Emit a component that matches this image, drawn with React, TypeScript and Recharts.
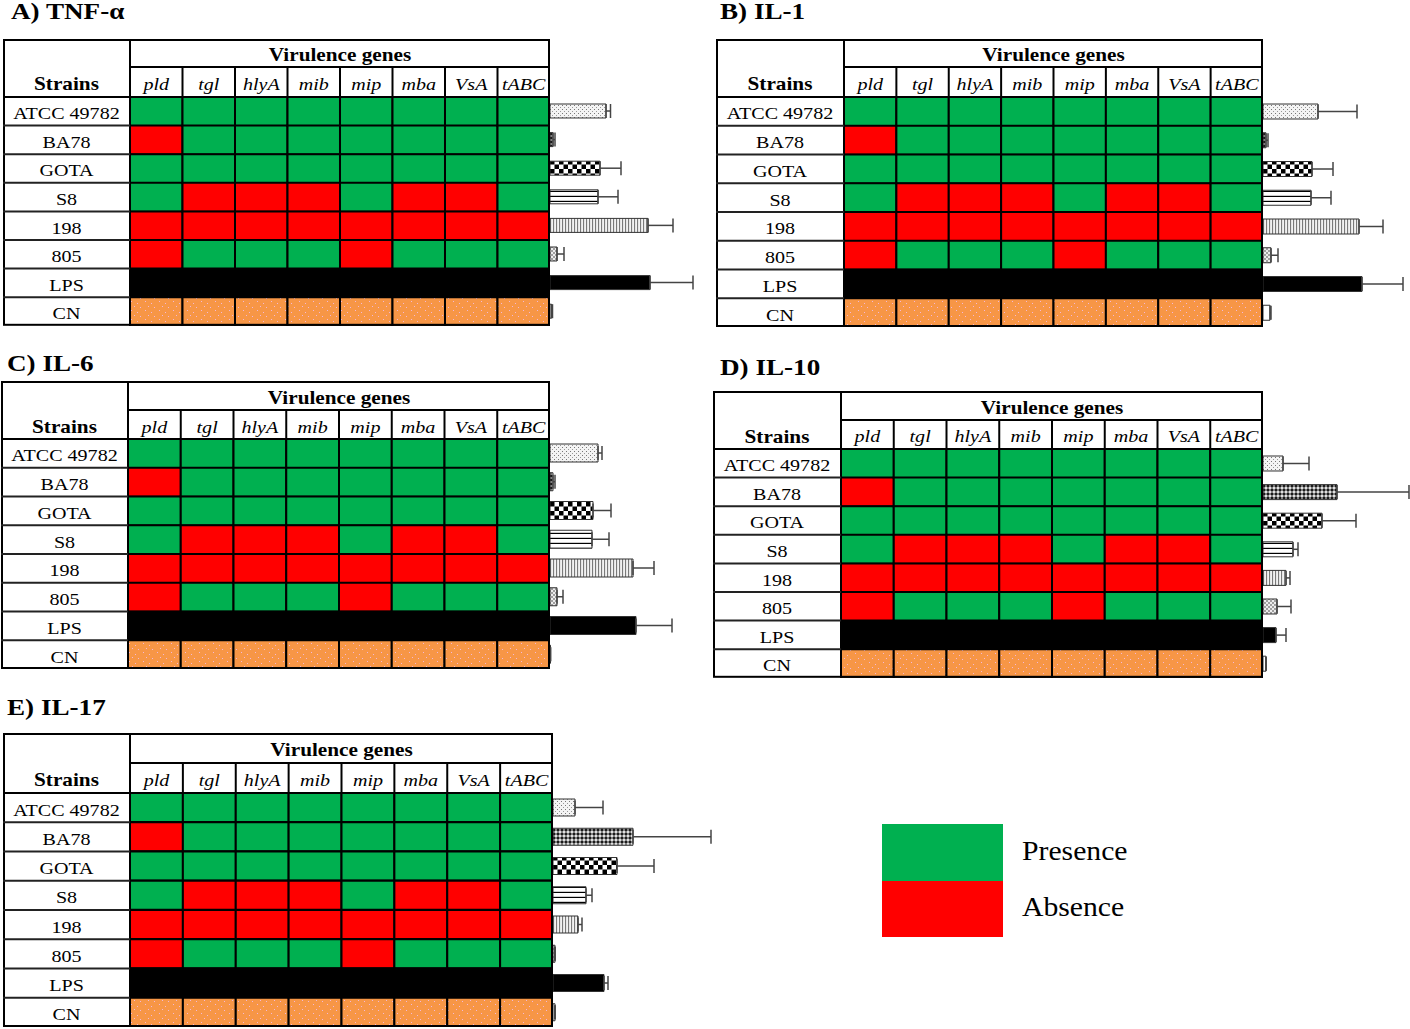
import React from "react";
import { BarChart, Bar, XAxis, YAxis, Cell, ErrorBar } from "recharts";

const strains = ["ATCC 49782", "BA78", "GOTA", "S8", "198", "805", "LPS", "CN"];
const genes = ["pld", "tgl", "hlyA", "mib", "mip", "mba", "VsA", "tABC"];

// 1 = gene present, 0 = absent. LPS and CN are controls (no profile)
const atccGenes = [1, 1, 1, 1, 1, 1, 1, 1];
const ba78Genes = [0, 1, 1, 1, 1, 1, 1, 1];
const gotaGenes = [1, 1, 1, 1, 1, 1, 1, 1];
const s8Genes = [1, 0, 0, 0, 1, 0, 0, 1];
const s198Genes = [0, 0, 0, 0, 0, 0, 0, 0];
const s805Genes = [0, 1, 1, 1, 0, 1, 1, 1];
const geneProfiles = [atccGenes, ba78Genes, gotaGenes, s8Genes, s198Genes, s805Genes, null, null];

// cytokine levels per strain (relative units) and their errors
const tnfMean = [56, 3, 50, 48, 98, 7, 100, 1.5];
const tnfErr = [4.5, 2, 21, 20, 25, 7, 43, 1];
const il1Mean = [55, 3, 49, 48, 96, 8, 99, 7];
const il1Err = [39, 2, 21, 20, 24, 7, 41, 1];
const il6Mean = [48, 3, 43, 42, 83, 7, 86, 0.5];
const il6Err = [4, 2, 18, 17, 21, 6, 36, 0];
const il10Mean = [20, 74, 59, 30, 23, 14, 13, 3];
const il10Err = [26, 72, 34, 5, 4, 14, 10, 0];
const il17Mean = [22, 80, 64, 33, 25, 2, 51, 2];
const il17Err = [28, 78, 37, 6, 4, 0, 4, 0];

const GREEN = "#00B050";
const RED = "#FF0000";
const FONT = "'Liberation Serif', 'Times New Roman', serif";
const SX = 1.18; // the original figure is stretched sideways

const barFills = [
  "url(#p-dots)",
  "url(#p-fine)",
  "url(#p-check)",
  "url(#p-hlines)",
  "url(#p-vlines)",
  "url(#p-diag)",
  "#000",
  "#fff",
];

const panels = [
  { key: "A", title: "A) TNF-α", tx: 11, ty: 19, x: 3, y: 39, w: 547, strainW: 127, h1: 28, h2: 30, rowH: 28.6, barW: 170, barSize: 14, mean: tnfMean, err: tnfErr },
  { key: "B", title: "B) IL-1", tx: 720, ty: 19, x: 716, y: 39, w: 547, strainW: 128, h1: 28, h2: 30, rowH: 28.75, barW: 147, barSize: 15, mean: il1Mean, err: il1Err },
  { key: "C", title: "C) IL-6", tx: 7, ty: 371, x: 1, y: 381, w: 549, strainW: 127, h1: 29, h2: 29, rowH: 28.75, barW: 170, barSize: 18, mean: il6Mean, err: il6Err },
  { key: "D", title: "D) IL-10", tx: 720, ty: 375, x: 713, y: 391, w: 550, strainW: 128, h1: 29, h2: 29, rowH: 28.6, barW: 147, barSize: 15, mean: il10Mean, err: il10Err },
  { key: "E", title: "E) IL-17", tx: 7, ty: 715, x: 3, y: 733, w: 550, strainW: 127, h1: 30, h2: 30, rowH: 29.25, barW: 167, barSize: 17, mean: il17Mean, err: il17Err },
];

function SText({ x, y, size, weight = "normal", italic = false, anchor = "middle", sx = SX, children }: any) {
  return (
    <text
      transform={`translate(${x},${y}) scale(${sx},1)`}
      textAnchor={anchor}
      fontFamily={FONT}
      fontSize={size}
      fontWeight={weight}
      fontStyle={italic ? "italic" : "normal"}
      fill="#000"
    >
      {children}
    </text>
  );
}

function cellFill(row: number, col: number) {
  if (row === 6) return "#000";
  if (row === 7) return "url(#p-orange)";
  return geneProfiles[row]![col] ? GREEN : RED;
}

function Panel({ p }: any) {
  const headH = p.h1 + p.h2;
  const tableH = headH + p.rowH * 8;
  const rows = strains.map((s) => {
    const r: any = { strain: s };
    genes.forEach((g) => (r[g] = 1));
    return r;
  });
  const levels = strains.map((s, i) => ({ strain: s, value: p.mean[i], range: [0, p.err[i]] }));
  const geneW = (p.w - p.strainW) / 8;

  return (
    <>
      <div style={{ position: "absolute", left: p.x, top: p.y }}>
        <BarChart
          width={p.w}
          height={tableH}
          data={rows}
          layout="vertical"
          margin={{ top: p.h1, right: 0, bottom: 0, left: 0 }}
          barCategoryGap={0}
        >
          <XAxis
            type="number"
            domain={[0, 8]}
            orientation="top"
            height={p.h2}
            ticks={[0.5, 1.5, 2.5, 3.5, 4.5, 5.5, 6.5, 7.5]}
            interval={0}
            axisLine={false}
            tickLine={false}
            tick={(t: any) => (
              <SText key={t.index} x={t.x} y={p.h1 + p.h2 / 2 + 8} size={17} italic>
                {genes[Math.floor(t.payload.value)]}
              </SText>
            )}
          />
          <YAxis
            type="category"
            dataKey="strain"
            width={p.strainW}
            interval={0}
            axisLine={false}
            tickLine={false}
            tick={(t: any) => (
              <SText key={t.index} x={p.strainW / 2} y={t.y + 8} size={17}>
                {t.payload.value}
              </SText>
            )}
          />
          {genes.map((g, j) => (
            <Bar key={g} dataKey={g} stackId="g" stroke="#000" strokeWidth={2} isAnimationActive={false}>
              {rows.map((_, i) => (
                <Cell key={i} fill={cellFill(i, j)} />
              ))}
            </Bar>
          ))}
        </BarChart>
        <svg
          width={p.w}
          height={tableH}
          style={{ position: "absolute", left: 0, top: 0, pointerEvents: "none" }}
        >
          <rect x={1} y={1} width={p.w - 2} height={tableH - 2} fill="none" stroke="#000" strokeWidth={2} />
          <line x1={p.strainW} y1={p.h1} x2={p.w} y2={p.h1} stroke="#000" strokeWidth={2} />
          <line x1={0} y1={headH} x2={p.w} y2={headH} stroke="#000" strokeWidth={2} />
          <line x1={p.strainW} y1={0} x2={p.strainW} y2={tableH} stroke="#000" strokeWidth={2} />
          {genes.slice(1).map((g, j) => (
            <line
              key={g}
              x1={p.strainW + geneW * (j + 1)}
              y1={p.h1}
              x2={p.strainW + geneW * (j + 1)}
              y2={headH}
              stroke="#000"
              strokeWidth={2}
            />
          ))}
          {strains.slice(1).map((s, k) => (
            <line
              key={s}
              x1={0}
              y1={headH + p.rowH * (k + 1)}
              x2={p.strainW}
              y2={headH + p.rowH * (k + 1)}
              stroke="#222"
              strokeWidth={2}
            />
          ))}
          <SText x={p.strainW + (p.w - p.strainW) / 2} y={p.h1 / 2 + 8} size={18} weight="bold">
            Virulence genes
          </SText>
          <SText x={p.strainW / 2} y={p.h1 + p.h2 / 2 + 8} size={18} weight="bold">
            Strains
          </SText>
        </svg>
      </div>
      <div style={{ position: "absolute", left: p.x + p.w, top: p.y + headH }}>
        <BarChart
          width={p.barW}
          height={p.rowH * 8}
          data={levels}
          layout="vertical"
          margin={{ top: 0, right: 0, bottom: 0, left: 0 }}
        >
          <XAxis type="number" domain={[0, p.barW]} hide />
          <YAxis type="category" dataKey="strain" hide />
          <Bar dataKey="value" barSize={p.barSize} stroke="#333" strokeWidth={1} isAnimationActive={false}>
            {levels.map((_, i) => (
              <Cell key={i} fill={barFills[i]} />
            ))}
            <ErrorBar dataKey="range" direction="x" width={7} stroke="#444" strokeWidth={1.5} />
          </Bar>
        </BarChart>
      </div>
    </>
  );
}

function Patterns() {
  return (
    <defs>
      <pattern id="p-dots" width="4" height="4" patternUnits="userSpaceOnUse">
        <rect width="4" height="4" fill="#f4f4f4" />
        <rect x="0" y="0" width="1" height="1" fill="#777" />
        <rect x="2" y="2" width="1" height="1" fill="#999" />
      </pattern>
      <pattern id="p-fine" width="4" height="4" patternUnits="userSpaceOnUse">
        <rect width="4" height="4" fill="#808080" />
        <rect x="0" y="0" width="2" height="2" fill="#1a1a1a" />
        <rect x="2" y="2" width="2" height="2" fill="#e0e0e0" />
      </pattern>
      <pattern id="p-check" width="9" height="9" patternUnits="userSpaceOnUse">
        <rect width="9" height="9" fill="#fff" />
        <rect x="0" y="0" width="4.5" height="4.5" fill="#000" />
        <rect x="4.5" y="4.5" width="4.5" height="4.5" fill="#000" />
      </pattern>
      <pattern id="p-hlines" width="6" height="5" patternUnits="userSpaceOnUse">
        <rect width="6" height="5" fill="#fff" />
        <rect x="0" y="3.8" width="6" height="1.3" fill="#000" />
      </pattern>
      <pattern id="p-vlines" width="3" height="6" patternUnits="userSpaceOnUse">
        <rect width="3" height="6" fill="#f2f2f2" />
        <rect x="0" y="0" width="1.1" height="6" fill="#7a7a7a" />
      </pattern>
      <pattern id="p-diag" width="4" height="4" patternUnits="userSpaceOnUse">
        <rect width="4" height="4" fill="#ececec" />
        <path d="M0,4 L4,0 M0,0 L4,4" stroke="#8a8a8a" strokeWidth="0.8" />
      </pattern>
      <pattern id="p-orange" width="14" height="9" patternUnits="userSpaceOnUse">
        <rect width="14" height="9" fill="#F79646" />
        <rect x="2" y="1" width="1" height="1" fill="#F2B8D8" />
        <rect x="8" y="3" width="1" height="1" fill="#F2B8D8" />
        <rect x="11" y="7" width="1" height="1" fill="#F2B8D8" />
        <rect x="5" y="6" width="1" height="1" fill="#F2B8D8" />
      </pattern>
    </defs>
  );
}

export default function App() {
  return (
    <div
      style={{
        position: "absolute",
        left: 0,
        top: 0,
        width: 1410,
        height: 1029,
        background: "#fff",
        overflow: "hidden",
      }}
    >
      <svg width={1410} height={1029} style={{ position: "absolute", left: 0, top: 0 }}>
        <Patterns />
        {panels.map((p) => (
          <SText key={p.key} x={p.tx} y={p.ty} size={23} weight="bold" anchor="start">
            {p.title}
          </SText>
        ))}
        <rect x={882} y={824} width={121} height={57} fill={GREEN} />
        <rect x={882} y={881} width={121} height={56} fill={RED} />
        <SText x={1022} y={860} size={27} anchor="start" sx={1.1}>
          Presence
        </SText>
        <SText x={1022} y={916} size={27} anchor="start" sx={1.1}>
          Absence
        </SText>
      </svg>
      {panels.map((p) => (
        <Panel key={p.key} p={p} />
      ))}
    </div>
  );
}
